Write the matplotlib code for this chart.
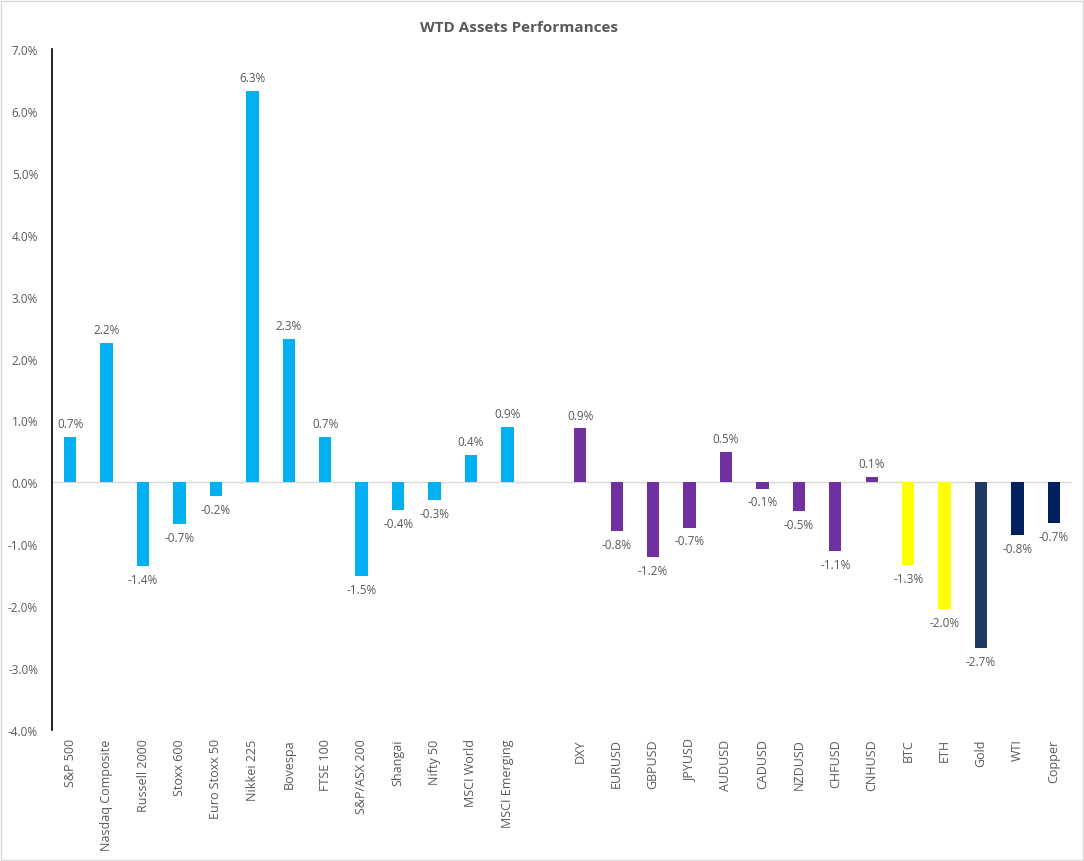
import matplotlib.pyplot as plt
import matplotlib.ticker as mtick
from matplotlib.patches import Rectangle

plt.rcParams['font.family'] = ['Open Sans', 'DejaVu Sans']

# categorias (slot vazio entre indices e moedas)
ativos = ['S&P 500', 'Nasdaq Composite', 'Russell 2000', 'Stoxx 600', 'Euro Stoxx 50',
          'Nikkei 225', 'Bovespa', 'FTSE 100', 'S&P/ASX 200', 'Shangai', 'Nifty 50',
          'MSCI World', 'MSCI Emerging', '',
          'DXY', 'EURUSD', 'GBPUSD', 'JPYUSD', 'AUDUSD', 'CADUSD', 'NZDUSD', 'CHFUSD',
          'CNHUSD', 'BTC', 'ETH', 'Gold', 'WTI', 'Copper']

# performance semanal (%)
perf = [0.73, 2.25, -1.35, -0.67, -0.22, 6.32, 2.32, 0.74, -1.52, -0.44, -0.28,
        0.44, 0.89, None,
        0.87, -0.78, -1.21, -0.73, 0.49, -0.10, -0.46, -1.11, 0.08,
        -1.34, -2.04, -2.68, -0.85, -0.66]

cores = ['#00B0F0'] * 13 + [None] + ['#7030A0'] * 9 + ['#FFFF00'] * 2 + ['#1F3864', '#002060', '#002060']

fig = plt.figure(figsize=(10.84, 8.62), dpi=100)
fig.patches.append(Rectangle((0.001, 0.001), 0.998, 0.997, transform=fig.transFigure,
                             fill=False, edgecolor='#D9D9D9', linewidth=1))
ax = fig.add_axes([0.048, 0.152, 0.941, 0.790])

xs = list(range(len(ativos)))
for x, v, c in zip(xs, perf, cores):
    if v is None:
        continue
    ax.bar(x, v, width=0.34, color=c, zorder=3)
    if v >= 0:
        ax.annotate(f'{v:.1f}%', (x, v), xytext=(0, 5), textcoords='offset points',
                    ha='center', va='bottom', fontsize=8.5, color='#595959')
    else:
        ax.annotate(f'{v:.1f}%', (x, v), xytext=(0, -5), textcoords='offset points',
                    ha='center', va='top', fontsize=8.5, color='#595959')

ax.axhline(0, color='#D9D9D9', linewidth=1, zorder=1)
ax.set_xlim(-0.5, len(ativos) - 0.5)
ax.set_ylim(-4, 7)
ax.set_yticks(range(-4, 8))
ax.yaxis.set_major_formatter(mtick.FuncFormatter(lambda v, p: f'{v:.1f}%'))
ax.tick_params(axis='y', length=0, labelsize=8.5, labelcolor='#595959', pad=10)

ax.set_xticks(xs)
ax.set_xticklabels(ativos, rotation=90, fontsize=9, color='#595959')
ax.tick_params(axis='x', length=0, pad=6)

for s in ['top', 'right', 'bottom']:
    ax.spines[s].set_visible(False)
ax.spines['left'].set_color('#000000')
ax.spines['left'].set_linewidth(1.2)

fig.text(0.479, 0.967, 'WTD Assets Performances', ha='center', va='center',
         fontsize=11, fontweight='bold', color='#595959')

plt.savefig('out.png', dpi=100)
